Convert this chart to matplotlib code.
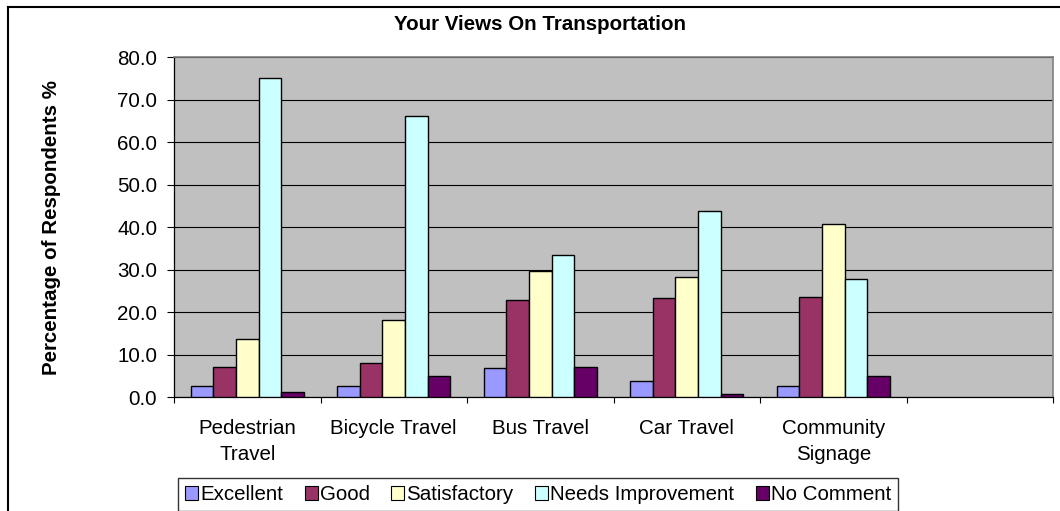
import matplotlib
matplotlib.use("Agg")
import matplotlib.pyplot as plt
from matplotlib.lines import Line2D
from matplotlib.patches import Patch
import numpy as np

# survey data
categories = ["Pedestrian\nTravel", "Bicycle Travel", "Bus Travel", "Car Travel", "Community\nSignage"]
series = ["Excellent", "Good", "Satisfactory", "Needs Improvement", "No Comment"]
excellent = [2.6, 2.6, 6.8, 3.8, 2.6]
good = [7.1, 8.0, 22.8, 23.3, 23.6]
satisfactory = [13.7, 18.2, 29.7, 28.2, 40.8]
needs_improvement = [75.0, 66.2, 33.5, 43.8, 27.8]
no_comment = [1.1, 4.9, 7.1, 0.7, 4.9]
colors = ["#9999FF", "#993366", "#FFFFCC", "#CCFFFF", "#660066"]

plt.rcParams['font.family'] = ['Liberation Sans', 'DejaVu Sans']
fs = 14.8

W, H = 1060, 511
fig = plt.figure(figsize=(W / 100, H / 100), dpi=100)
ax = fig.add_axes([174 / W, 1 - 397 / H, (1053 - 174) / W, (397 - 57) / H])
ax.set_facecolor("#C0C0C0")

n_slots = 6  # Excel keeps an empty sixth category
x = np.arange(len(categories))
w = 1 / 6.5
values = [excellent, good, satisfactory, needs_improvement, no_comment]
for i, (vals, c) in enumerate(zip(values, colors)):
    ax.bar(x + (i - 2) * w, vals, width=w, color=c, edgecolor="black", linewidth=1.0, zorder=3)

ax.set_xlim(-0.5, n_slots - 0.5)
ax.set_ylim(0, 80)
ax.set_yticks(np.arange(0, 81, 10))
ax.set_yticklabels(["%.1f" % v for v in np.arange(0, 81, 10)], fontsize=fs)
ax.yaxis.grid(True, color="black", linewidth=0.8, zorder=1)
ax.tick_params(axis="y", length=5, width=0.8, pad=7, color="black")

ax.set_xticks(np.arange(n_slots + 1) - 0.5)
ax.set_xticklabels([])
ax.tick_params(axis="x", which="major", length=4, width=0.8, direction="out")
ax.set_xticks(x, minor=True)
ax.set_xticklabels(categories, minor=True, fontsize=fs, linespacing=1.45)
ax.tick_params(axis="x", which="minor", length=0, pad=16)

for s in ["top", "right"]:
    ax.spines[s].set_color("#808080")
    ax.spines[s].set_linewidth(1.2)
for s in ["left", "bottom"]:
    ax.spines[s].set_color("black")
    ax.spines[s].set_linewidth(0.9)

fig.text(540 / W, 1 - 24 / H, "Your Views On Transportation", ha="center", va="center",
         fontsize=fs, fontweight="bold")
fig.text(52 / W, 1 - 228 / H, "Percentage of Respondents %", ha="center", va="center",
         rotation=90, fontsize=fs, fontweight="bold")

# outer chart border (left and top edges visible)
fig.add_artist(Line2D([8 / W, 8 / W], [0, 1 - 7 / H], color="black", linewidth=1.5))
fig.add_artist(Line2D([8 / W, 1], [1 - 7 / H, 1 - 7 / H], color="black", linewidth=1.5))

handles = [Patch(facecolor=c, edgecolor="black", linewidth=0.8) for c in colors]
leg = fig.legend(handles, series, loc="upper left", bbox_to_anchor=(178 / W, 1 - 478 / H),
                 ncol=5, fontsize=fs, frameon=True, fancybox=False, shadow=False,
                 handlelength=0.63, handleheight=0.63, handletextpad=0.1,
                 columnspacing=1.05, borderpad=0.35, borderaxespad=0)
leg.get_frame().set_edgecolor("black")
leg.get_frame().set_linewidth(1.0)

fig.savefig("out.png", dpi=100)
